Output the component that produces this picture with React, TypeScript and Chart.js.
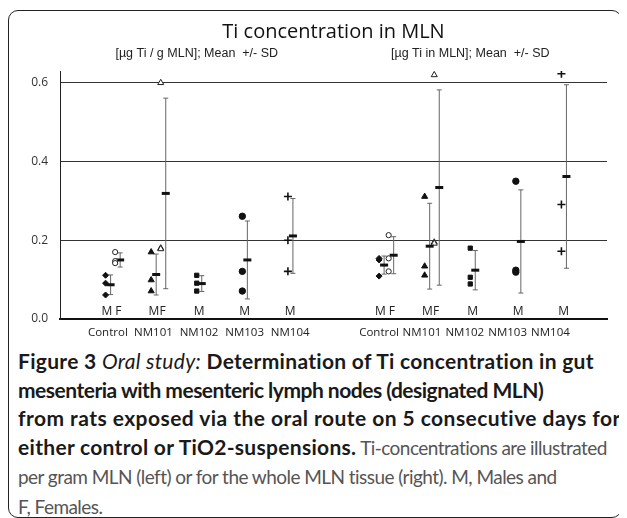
import React, { useEffect, useRef } from "react";
import { Chart, registerables } from "chart.js";

Chart.register(...registerables);

// ---------- data ----------
const categories = ["Control", "NM101", "NM102", "NM103", "NM104"];
const sexLabels = ["M F", "MF", "M", "M", "M"];
const yTicks = [0, 0.2, 0.4, 0.6];
const chartTitle = "Ti concentration in MLN";
const panelTitles = ["[µg Ti / g MLN]; Mean  +/- SD", "[µg Ti in MLN]; Mean  +/- SD"];

// left panel: per gram MLN
const perGramMale = [
  [0.111, 0.091, 0.061],
  [0.170, 0.099, 0.071],
  [0.111, 0.091, 0.071],
  [0.261, 0.121, 0.071],
  [0.311, 0.200, 0.121],
];
const perGramMaleMean = [0.087, 0.113, 0.090, 0.150, 0.211];
const perGramMaleSD = [0.025, 0.052, 0.020, 0.099, 0.095];
const perGramFemale = [
  [0.170, 0.147, 0.142],
  [0.600, 0.180, 0.178],
];
const perGramFemaleMean = [0.150, 0.319];
const perGramFemaleSD = [0.018, 0.242];

// right panel: whole MLN
const wholeMale = [
  [0.154, 0.150, 0.109],
  [0.311, 0.134, 0.111],
  [0.180, 0.106, 0.089],
  [0.350, 0.124, 0.119],
  [0.623, 0.291, 0.172],
];
const wholeMaleMean = [0.137, 0.185, 0.124, 0.197, 0.362];
const wholeMaleSD = [0.023, 0.109, 0.050, 0.131, 0.233];
const wholeFemale = [
  [0.213, 0.154, 0.121],
  [0.620, 0.195, 0.192],
];
const wholeFemaleMean = [0.162, 0.334];
const wholeFemaleSD = [0.047, 0.248];

// ---------- styling / layout ----------
const maleStyles = ["rectRot", "triangle", "rect", "circle", "cross"];
const maleRadius = [3, 3.5, 3, 3.2, 4];
const femaleStyles = ["circle", "triangle"];
const femaleRadius = [2.6, 3.5];

const OFF_MALE_MEAN = 0.11;
const OFF_FEMALE = 0.21;
const OFF_FEMALE_MEAN = 0.32;

const panels = [
  { male: perGramMale, maleMean: perGramMaleMean, maleSD: perGramMaleSD, female: perGramFemale, femaleMean: perGramFemaleMean, femaleSD: perGramFemaleSD },
  { male: wholeMale, maleMean: wholeMaleMean, maleSD: wholeMaleSD, female: wholeFemale, femaleMean: wholeFemaleMean, femaleSD: wholeFemaleSD },
];

const groupX = (p: number, i: number) => p * 6 + 1 + i;
const tickPositions: number[] = [
  ...categories.map((_, i) => groupX(0, i) + 0.05),
  ...categories.map((_, i) => 7.0 + i * 0.94),
];

function buildDatasets() {
  const ds: any[] = [];
  panels.forEach((pd, p) => {
    categories.forEach((_, i) => {
      const gx = groupX(p, i);
      ds.push({
        data: pd.male[i].map((v) => ({ x: gx, y: v })),
        pointStyle: maleStyles[i],
        pointRadius: maleRadius[i],
        pointBackgroundColor: "#111",
        pointBorderColor: "#111",
        pointBorderWidth: maleStyles[i] === "cross" ? 1.6 : 1,
        order: 0,
      });
      const mx = gx + OFF_MALE_MEAN;
      ds.push({
        data: [{ x: mx, y: pd.maleMean[i] }],
        pointStyle: "line",
        pointRadius: 4,
        pointBorderWidth: 3,
        pointBorderColor: "#111",
        order: 0,
      });
      ds.push({
        data: [
          { x: mx, y: pd.maleMean[i] - pd.maleSD[i] },
          { x: mx, y: pd.maleMean[i] + pd.maleSD[i] },
        ],
        showLine: true,
        borderColor: "#666",
        borderWidth: 1,
        pointStyle: "line",
        pointRadius: 2.5,
        pointBorderWidth: 1,
        pointBorderColor: "#666",
        order: 2,
      });
      if (i < pd.female.length) {
        const fx = gx + OFF_FEMALE;
        ds.push({
          data: pd.female[i].map((v) => ({ x: fx, y: v })),
          pointStyle: femaleStyles[i],
          pointRadius: femaleRadius[i],
          pointBackgroundColor: "#fff",
          pointBorderColor: "#222",
          pointBorderWidth: 1,
          order: 0,
        });
        const fmx = gx + OFF_FEMALE_MEAN;
        ds.push({
          data: [{ x: fmx, y: pd.femaleMean[i] }],
          pointStyle: "line",
          pointRadius: 4,
          pointBorderWidth: 3,
          pointBorderColor: "#111",
          order: 0,
        });
        ds.push({
          data: [
            { x: fmx, y: pd.femaleMean[i] - pd.femaleSD[i] },
            { x: fmx, y: pd.femaleMean[i] + pd.femaleSD[i] },
          ],
          showLine: true,
          borderColor: "#666",
          borderWidth: 1,
          pointStyle: "line",
          pointRadius: 2.5,
          pointBorderWidth: 1,
          pointBorderColor: "#666",
          order: 2,
        });
      }
    });
  });
  return ds;
}

const textPlugin = {
  id: "figureTexts",
  afterDraw(chart: any) {
    const { ctx, chartArea } = chart;
    const xs = chart.scales.x;
    ctx.save();
    ctx.textAlign = "center";
    ctx.textBaseline = "middle";
    ctx.fillStyle = "#111";
    ctx.font = '20px "Open Sans"';
    ctx.fillText(chartTitle, (chartArea.left + chartArea.right) / 2, 21.5);
    ctx.font = '12.5px "Liberation Sans"';
    ctx.fillStyle = "#222";
    panelTitles.forEach((t, p) => {
      ctx.fillText(t, xs.getPixelForValue(groupX(p, 2)), 43);
    });
    ctx.font = '12px "Open Sans"';
    ctx.fillStyle = "#222";
    panels.forEach((_, p) => {
      sexLabels.forEach((s, i) => {
        const off = s.length > 1 ? 0.13 : 0.05;
        ctx.fillText(s, xs.getPixelForValue(groupX(p, i) + off), chartArea.bottom - 7);
      });
    });
    ctx.restore();
  },
};

function FigureChart() {
  const ref = useRef<HTMLCanvasElement | null>(null);
  useEffect(() => {
    if (!ref.current) return;
    const chart = new Chart(ref.current, {
      type: "scatter",
      data: { datasets: buildDatasets() },
      plugins: [textPlugin],
      options: {
        animation: false,
        responsive: false,
        maintainAspectRatio: false,
        layout: { padding: { top: 60, right: 12, left: 0, bottom: 0 } },
        plugins: { legend: { display: false }, tooltip: { enabled: false }, title: { display: false } },
        scales: {
          x: {
            type: "linear",
            min: 0,
            max: 12,
            grid: { display: false, drawTicks: false },
            border: { display: true, color: "#111", width: 2 },
            afterBuildTicks: (scale: any) => {
              scale.ticks = tickPositions.map((v) => ({ value: v }));
            },
            afterFit: (scale: any) => {
              scale.height = 28;
            },
            ticks: {
              autoSkip: false,
              maxRotation: 0,
              padding: 7,
              color: "#222",
              font: { family: "Open Sans", size: 11.5 },
              callback: (_v: any, idx: number) => categories[idx % categories.length],
            },
          },
          y: {
            type: "linear",
            min: 0,
            max: 0.63,
            grid: { color: "#333", lineWidth: 1, drawTicks: false },
            border: { display: true, color: "#222", width: 1 },
            afterBuildTicks: (scale: any) => {
              scale.ticks = yTicks.map((v) => ({ value: v }));
            },
            afterFit: (scale: any) => {
              scale.width = 51;
            },
            ticks: {
              padding: 12,
              color: "#333",
              font: { family: "Open Sans", size: 12 },
              callback: (v: any) => Number(v).toFixed(1),
            },
          },
        },
      } as any,
    });
    return () => chart.destroy();
  }, []);
  return <canvas ref={ref} width={610} height={336} style={{ display: "block", width: 610, height: 336 }} />;
}

export default function App() {
  const bold: React.CSSProperties = { fontWeight: 700, color: "#1a1a1a", fontSize: 21, letterSpacing: "0.3px" };
  const normal: React.CSSProperties = { fontWeight: 400, color: "#555", fontSize: 19, letterSpacing: "-0.55px" };
  return (
    <div
      style={{
        marginTop: 2,
        width: 614,
        height: 508,
        border: "1.5px solid #222",
        borderRadius: 10,
        boxSizing: "border-box",
        position: "relative",
      }}
    >
      <FigureChart />
      <div
        style={{
          fontFamily: "Lato",
          fontSize: 21,
          lineHeight: "28.6px",
          paddingLeft: 9,
          whiteSpace: "nowrap",
        }}
      >
        <span style={bold}>Figure 3 </span>
        <span style={{ ...bold, fontWeight: 400, fontStyle: "italic" }}>Oral study:</span>
        <span style={bold}> Determination of Ti concentration in gut</span>
        <br />
        <span style={{ ...bold, letterSpacing: "-0.5px" }}>mesenteria with mesenteric lymph nodes (designated MLN)</span>
        <br />
        <span style={{ ...bold, letterSpacing: "0.45px" }}>from rats exposed via the oral route on 5 consecutive days for</span>
        <br />
        <span style={bold}>either control or TiO2-suspensions.</span>
        <span style={normal}> Ti-concentrations are illustrated</span>
        <br />
        <span style={normal}>per gram MLN (left) or for the whole MLN tissue (right). M, Males and</span>
        <br />
        <span style={normal}>F, Females.</span>
      </div>
    </div>
  );
}
